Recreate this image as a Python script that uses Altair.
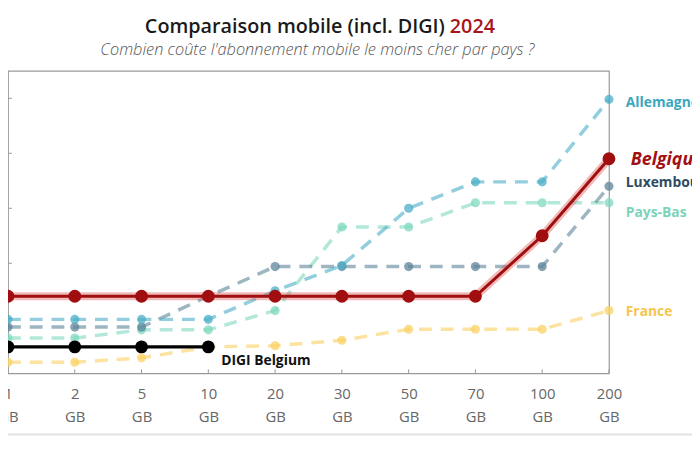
import altair as alt
import pandas as pd

cats = ["1", "2", "5", "10", "20", "30", "50", "70", "100", "200"]

belgique = [7.0, 7.0, 7.0, 7.0, 7.0, 7.0, 7.0, 7.0, 12.5, 19.5]
digi = [2.4, 2.4, 2.4, 2.4]
france = [1.0, 1.0, 1.4, 2.4, 2.5, 3.0, 4.0, 4.0, 4.0, 5.7]
allemagne = [4.9, 4.9, 4.9, 4.9, 7.5, 9.8, 15.0, 17.4, 17.4, 24.9]
luxembourg = [4.2, 4.2, 4.2, 7.0, 9.7, 9.7, 9.7, 9.7, 9.7, 17.0]
pays_bas = [3.2, 3.2, 3.95, 3.95, 5.7, 13.3, 13.3, 15.5, 15.5, 15.5]

dashed_names = ["France", "Pays-Bas", "Luxembourg", "Allemagne"]
dashed_vals = [france, pays_bas, luxembourg, allemagne]
dashed_colors = ["#fbd163", "#7fd8bf", "#5d8499", "#4aaec6"]

label_names = ["Allemagne", "Luxembourg", "Pays-Bas", "France"]
label_pos = [24.6, 17.3, 14.6, 5.6]
label_colors = ["#3ba7be", "#2e4b61", "#7bd4ba", "#f6c54e"]
bel_label_pos = [19.4]
y_ticks = [5, 10, 15, 20, 25]

rows = []
for n, vals in zip(dashed_names, dashed_vals):
    for c, v in zip(cats, vals):
        rows.append({"pays": n, "gb": c, "v": v})
dashed_df = pd.DataFrame(rows)
bel_df = pd.DataFrame({"gb": cats, "v": belgique})
digi_df = pd.DataFrame({"gb": cats[:4], "v": digi})
lab_df = pd.DataFrame({"pays": label_names, "v": label_pos, "gb": ["200"] * len(label_names)})
bel_lab_df = pd.DataFrame({"pays": ["Belgique"], "v": bel_label_pos, "gb": ["200"]})

xenc = alt.X(
    "gb:N", sort=cats,
    scale=alt.Scale(type="point", padding=0, domain=cats),
    axis=alt.Axis(title=None, labelExpr="[datum.label, 'GB']", ticks=False, domain=False,
                  labelFontSize=15, labelColor="#666666", labelPadding=14, labelAngle=0,
                  labelLineHeight=23, labelFont="Open Sans", labelFontWeight=400, grid=False),
)
yenc = alt.Y("v:Q", scale=alt.Scale(domain=[0, 27.5], nice=False, zero=False), axis=None)
cscale = alt.Scale(domain=dashed_names, range=dashed_colors)

dash_lines = alt.Chart(dashed_df).mark_line(strokeDash=[13, 9], strokeWidth=3.5, opacity=0.6).encode(
    x=xenc, y=yenc, color=alt.Color("pays:N", scale=cscale, legend=None), detail="pays:N")
dash_pts = alt.Chart(dashed_df).mark_circle(size=85, opacity=0.75).encode(
    x=xenc, y=yenc, color=alt.Color("pays:N", scale=cscale, legend=None))

bel_halo = alt.Chart(bel_df).mark_line(color="#d9534f", strokeWidth=8, opacity=0.4).encode(x=xenc, y=yenc)
bel_line = alt.Chart(bel_df).mark_line(color="#a10e10", strokeWidth=3).encode(x=xenc, y=yenc)
bel_pts = alt.Chart(bel_df).mark_circle(color="#a10e10", size=170, opacity=1).encode(x=xenc, y=yenc)

digi_line = alt.Chart(digi_df).mark_line(color="#000000", strokeWidth=3.5).encode(x=xenc, y=yenc)
digi_pts = alt.Chart(digi_df).mark_circle(color="#000000", size=170, opacity=1).encode(x=xenc, y=yenc)
digi_lab = alt.Chart(pd.DataFrame({"gb": ["10"], "v": [1.1], "t": ["DIGI Belgium"]})).mark_text(
    align="left", baseline="middle", dx=13, font="Open Sans", fontSize=14, fontWeight="bold", color="#111111"
).encode(x=xenc, y=yenc, text="t:N")

labels = alt.Chart(lab_df).mark_text(
    align="left", baseline="middle", dx=17, font="Open Sans", fontSize=14, fontWeight="bold"
).encode(
    x=xenc, y=yenc, text="pays:N",
    color=alt.Color("pays:N", scale=alt.Scale(domain=label_names, range=label_colors), legend=None),
)
bel_label = alt.Chart(bel_lab_df).mark_text(
    align="left", baseline="middle", dx=22, font="Open Sans", fontSize=18, fontWeight="bold",
    fontStyle="italic", color="#a10f12"
).encode(x=xenc, y=yenc, text="pays:N")

bottom_ticks = alt.Chart(pd.DataFrame({"gb": cats})).mark_rule(color="#999999", strokeWidth=1).encode(
    x=xenc, y=alt.value(306), y2=alt.value(302))
left_ticks = alt.Chart(pd.DataFrame({"v": y_ticks})).mark_rule(color="#999999", strokeWidth=1).encode(
    y=yenc, x=alt.value(0), x2=alt.value(4))

title1 = alt.Chart(pd.DataFrame({"t": ["Comparaison mobile (incl. DIGI)"]})).mark_text(
    align="right", baseline="middle", font="Open Sans", fontSize=20, fontWeight=600, color="#1a1a1a"
).encode(text="t:N", x=alt.value(442), y=alt.value(-44))
title2 = alt.Chart(pd.DataFrame({"t": ["2024"]})).mark_text(
    align="left", baseline="middle", font="Open Sans", fontSize=20, fontWeight=600, color="#a8141a"
).encode(text="t:N", x=alt.value(447), y=alt.value(-44))
subtitle = alt.Chart(pd.DataFrame({"t": ["Combien coûte l'abonnement mobile le moins cher par pays ?"]})).mark_text(
    align="center", baseline="middle", font="Open Sans", fontSize=16.5, fontStyle="italic", fontWeight=300,
    color="#555555"
).encode(text="t:N", x=alt.value(313), y=alt.value(-21))

card_line = alt.Chart(pd.DataFrame({"a": [0]})).mark_rule(color="#e2e2e2", strokeWidth=2).encode(
    x=alt.value(-8), x2=alt.value(692), y=alt.value(368))

chart = alt.layer(
    card_line, bottom_ticks, left_ticks, dash_lines, dash_pts, digi_line, digi_pts,
    bel_halo, bel_line, bel_pts, labels, bel_label, digi_lab, title1, title2, subtitle,
).resolve_scale(color="independent").properties(
    width=608, height=306, autosize="none",
    padding={"left": 0, "top": 61, "right": 84, "bottom": 67},
).configure_view(stroke="#9a9a9a", strokeWidth=1.2)

chart.save("out.html", embed_options={"renderer": "svg", "actions": False})
